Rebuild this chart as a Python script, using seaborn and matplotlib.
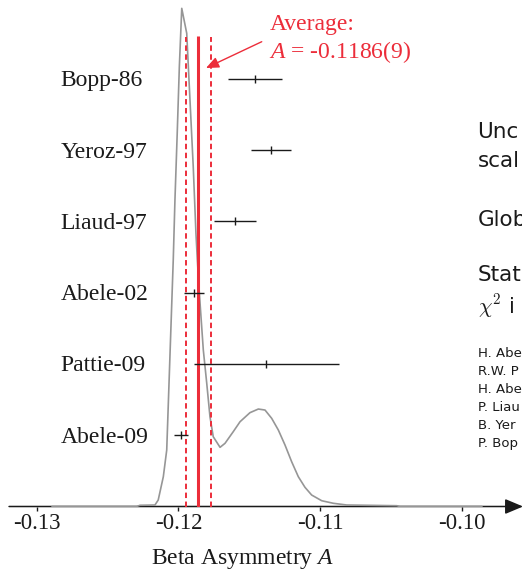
import matplotlib
matplotlib.use("Agg")
import matplotlib.pyplot as plt
import matplotlib.transforms as mtransforms
import seaborn as sns
import pandas as pd

# ---- data ----
experiments = ["Bopp-86", "Yeroz-97", "Liaud-97", "Abele-02", "Pattie-09", "Abele-09"]
rows = [6, 5, 4, 3, 2, 1]
values = [-0.1146, -0.1135, -0.1160, -0.1189, -0.1138, -0.1198]
errors = [0.0019, 0.0014, 0.0015, 0.0007, 0.0051, 0.0005]

average = -0.1186
average_err = 0.0009

tick_values = [-0.13, -0.12, -0.11, -0.10]
tick_labels = ["-0.13", "-0.12", "-0.11", "-0.10"]

# ideogram curve
curve_x = [-0.12892, -0.12295, -0.12272, -0.12166, -0.12143, -0.12107, -0.12083,
           -0.12037, -0.12025, -0.12009, -0.11994, -0.11977, -0.11942, -0.11919,
           -0.11896, -0.11877, -0.11867, -0.11853, -0.11825, -0.11801, -0.11778,
           -0.11755, -0.11707, -0.11672, -0.11614, -0.11566, -0.11496, -0.11437,
           -0.11390, -0.11343, -0.11296, -0.11249, -0.11202, -0.11155, -0.11108,
           -0.11061, -0.10990, -0.10908, -0.10814, -0.10461, -0.10438, -0.09860]
curve_y = [0.0, 0.0, 0.017, 0.021, 0.091, 0.418, 0.792,
           3.457, 4.299, 5.234, 6.168, 6.987, 6.637, 5.701,
           4.766, 3.832, 3.457, 2.994, 2.195, 1.732, 1.259,
           0.979, 0.830, 0.886, 1.049, 1.189, 1.316, 1.367,
           1.353, 1.237, 1.073, 0.863, 0.628, 0.418, 0.269,
           0.161, 0.081, 0.045, 0.021, 0.011, 0.0, 0.0]

# text fragments visible at the right edge of the reference
side_lines = ["Unc", "scal", "Glob", "Stat", r"$\chi^2$ i"]
side_rows = [5.164, 4.766, 3.941, 3.163, 2.710]
refs = ["H. Abe", "R.W. P", "H. Abe", "P. Liau", "B. Yer", "P. Bop"]
ref_rows = [2.097, 1.844, 1.592, 1.340, 1.087, 0.835]

# ---- style ----
sns.set_theme(style="white")
plt.rcParams["font.family"] = ["Liberation Serif", "DejaVu Serif"]
plt.rcParams["mathtext.fontset"] = "custom"
plt.rcParams["mathtext.rm"] = "Liberation Serif"
plt.rcParams["mathtext.it"] = "Liberation Serif:italic"
plt.rcParams["axes.unicode_minus"] = False

RED = "#ec2d3a"
GRAY = "#969696"
BLACK = "#1a1a1a"

fig = plt.figure(figsize=(5.22, 5.70), dpi=100)
ax = fig.add_axes([0, 63.5 / 570, 1, 506.5 / 570])
ax.set_xlim(-0.132588, -0.095775)
ax.set_ylim(0, 7.104)
for s in ax.spines.values():
    s.set_visible(False)
ax.set_facecolor("none")

# x axis line with arrow
ax.annotate("", xy=(-0.0957, 0), xytext=(-0.13195, 0),
            arrowprops=dict(arrowstyle="-|>,head_length=1.0,head_width=0.42",
                            mutation_scale=11, lw=1.1, color=BLACK,
                            shrinkA=0, shrinkB=0),
            annotation_clip=False, zorder=2)

# ideogram
df_curve = pd.DataFrame({"x": curve_x, "y": curve_y})
sns.lineplot(data=df_curve, x="x", y="y", sort=False, estimator=None,
             color=GRAY, lw=1.2, ax=ax, zorder=3)

# average lines
ax.vlines(average, 0, 6.603, color=RED, lw=2.2, zorder=4)
for v in (average - average_err, average + average_err):
    ax.vlines(v, 0, 6.59, color=RED, lw=1.4, linestyles=(0, (2.8, 1.8)), zorder=4)

# data points
ax.errorbar(values, rows, xerr=errors, fmt="|", ms=6, mew=1.0,
            color=BLACK, ecolor=BLACK, elinewidth=1.0, capsize=0, zorder=5)

# labels
lab_tr = mtransforms.blended_transform_factory(ax.transAxes, ax.transData)
off = mtransforms.ScaledTranslation(0, -7.5 / 100, fig.dpi_scale_trans)
for name, r in zip(experiments, rows):
    ax.text(60.7 / 522, r, name, transform=lab_tr + off, ha="left",
            va="baseline", fontsize=17, color=BLACK)

# average annotation
ax.text(270 / 522, (506.5 - 30) / 71.3, "Average:", transform=lab_tr,
        ha="left", va="baseline", fontsize=17, color=RED)
ax.text(269.3 / 522, (506.5 - 58.3) / 71.3, r"$A$ = -0.1186(9)", transform=lab_tr,
        ha="left", va="baseline", fontsize=17, color=RED)
ax.annotate("", xy=(-0.11806, 6.150), xytext=(-0.11413, 6.519),
            arrowprops=dict(arrowstyle="-|>,head_length=0.7,head_width=0.3",
                            mutation_scale=11, lw=1.0, color=RED,
                            shrinkA=0, shrinkB=0), zorder=6)

# side texts at right edge
for t, r in zip(side_lines, side_rows):
    ax.text(477.5 / 522, r, t, transform=lab_tr, ha="left", va="baseline",
            fontsize=15.5, family=["DejaVu Sans"], color=BLACK,
            math_fontfamily="cm", clip_on=False)
for t, r in zip(refs, ref_rows):
    ax.text(477.5 / 522, r, t, transform=lab_tr, ha="left", va="baseline",
            fontsize=9.5, family=["DejaVu Sans"], color=BLACK, clip_on=False)

# ticks
ax.set_xticks(tick_values, tick_labels)
ax.set_yticks([])
ax.tick_params(axis="x", direction="out", length=3, width=1.0, pad=1.5,
               labelsize=16.5, colors=BLACK, bottom=True)
ax.set_xlabel(r"Beta Asymmetry $A$", fontsize=17, color=BLACK)
ax.xaxis.set_label_coords(243 / 522, -40.5 / 506.5)
ax.xaxis.label.set_va("top")
ax.set_ylabel("")

fig.savefig("out.png", dpi=100)
